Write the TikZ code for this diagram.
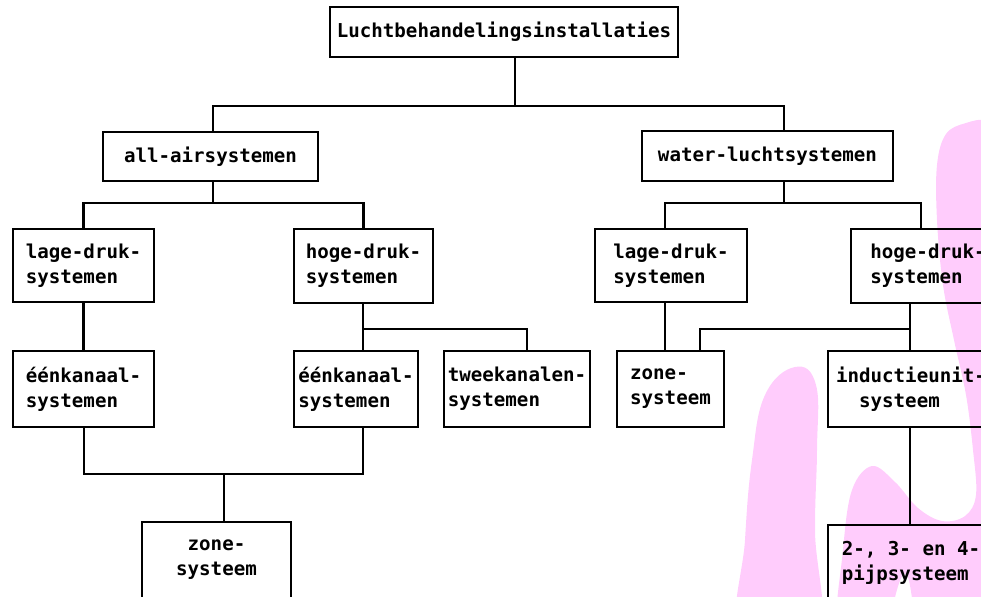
\documentclass[tikz,border=0pt]{standalone}
\usepackage{fontspec}
\setmonofont{DejaVu Sans Mono}
\usetikzlibrary{positioning}
\definecolor{roze}{RGB}{255,204,252}

\begin{document}
\begin{tikzpicture}[x=0.02cm,y=-0.02cm,
    blok/.style={draw,line width=1.2pt,inner sep=0pt,align=left,
      font=\ttfamily\bfseries\fontsize{10.9}{14.2}\selectfont},
    lijn/.style={line width=1.2pt}]

  \useasboundingbox (0,0) rectangle (981,596);
  \clip (0,0) rectangle (981,596);

  % markeerstift
  \fill[roze] plot[smooth cycle, tension=0.7] coordinates {(741,640) (745,540) (752,460) (765,395) (795,367) (816,385) (817,450) (815,530) (817,640)};
  \fill[roze] plot[smooth cycle, tension=0.6] coordinates {(838,640) (843,550) (852,490) (872,466) (895,482) (918,508) (942,521) (965,516) (976,495) (973,450) (966,395) (954,340) (943,285) (937,220) (937,165) (946,134) (966,123) (990,121) (1030,140) (1030,640) (930,640) (905,574) (880,640)};

  \node[blok,minimum width=6.96cm,minimum height=1cm] (lucht) at (504,32) {Luchtbehandelingsinstallaties};
  \node[blok,minimum width=4.3cm,minimum height=0.98cm] (all_air) at (210.5,156.5) {all-airsystemen};
  \node[blok,minimum width=5.02cm,minimum height=1cm] (water_lucht) at (767.5,156) {water-luchtsystemen};

  \node[blok,minimum width=2.82cm,minimum height=1.46cm] (ld_1) at (83.5,265.5) {lage-druk-\\systemen};
  \node[blok,minimum width=2.78cm,minimum height=1.48cm] (hd_1) at (363.5,266) {hoge-druk-\\systemen};
  \node[blok,minimum width=3.04cm,minimum height=1.46cm] (ld_2) at (671,265.5) {lage-druk-\\systemen};
  \node[blok,minimum width=3.08cm,minimum height=1.48cm] (hd_2) at (928,266) {hoge-druk-\\systemen};

  \node[blok,minimum width=2.82cm,minimum height=1.52cm] (ek_1) at (83.5,389) {éénkanaal-\\systemen};
  \node[blok,minimum width=2.48cm,minimum height=1.52cm] (ek_2) at (356,389) {éénkanaal-\\systemen};
  \node[blok,minimum width=2.92cm,minimum height=1.52cm] (tk) at (517,389) {tweekanalen-\\systemen};
  \node[blok,minimum width=2.14cm,minimum height=1.52cm] (zs_2) at (670.5,389) {zone-\\systeem};
  \node[blok,minimum width=3.32cm,minimum height=1.52cm] (iu) at (911,389) {inductieunit-\\\phantom{in}systeem};

  \node[blok,align=center,minimum width=2.98cm,minimum height=1.52cm] (zs_1) at (216.5,560) {zone-\\systeem};
  \node[blok,minimum width=3.32cm,minimum height=1.52cm] (pijp) at (911,563) {2-, 3- en 4-\\pijpsysteem};

  \coordinate (s_0) at (515,106);
  \coordinate (s_1) at (784,106);
  \coordinate (s_2) at (213,203);
  \coordinate (s_3) at (784,203);
  \coordinate (s_4) at (665,203);
  \coordinate (s_5) at (921,203);
  \coordinate (s_6) at (363,329);
  \coordinate (s_7) at (527,329);
  \coordinate (s_8) at (910,329);
  \coordinate (s_9) at (700,329);
  \coordinate (s_10) at (84,474);
  \coordinate (s_11) at (363,474);
  \coordinate (s_12) at (224,474);

  \draw[lijn] (lucht.south -| s_0) -- (s_0);
  \draw[lijn] (all_air.north -| s_2) |- (s_0) -| (water_lucht.north -| s_1);
  \draw[lijn] (all_air.south -| s_2) -- (s_2);
  \draw[lijn] (ld_1.north) |- (s_2) -| (hd_1.north);
  \draw[lijn] (water_lucht.south -| s_3) -- (s_3);
  \draw[lijn] (ld_2.north -| s_4) -- (s_4) -- (s_5) -- (hd_2.north -| s_5);

  \draw[lijn] (ld_1) -- (ek_1);
  \draw[lijn] (hd_1.south -| s_6) -- (ek_2.north -| s_6);
  \draw[lijn] (s_6) -- (s_7) -- (tk.north -| s_7);
  \draw[lijn] (ld_2.south -| s_4) -- (zs_2.north -| s_4);
  \draw[lijn] (hd_2.south -| s_8) -- (iu.north -| s_8);
  \draw[lijn] (s_8) -- (s_9) -- (zs_2.north -| s_9);

  \draw[lijn] (ek_1.south -| s_10) -- (s_10) -- (s_11) -- (ek_2.south -| s_11);
  \draw[lijn] (s_12) -- (zs_1.north -| s_12);
  \draw[lijn] (iu.south -| s_8) -- (pijp.north -| s_8);

\end{tikzpicture}
\end{document}
